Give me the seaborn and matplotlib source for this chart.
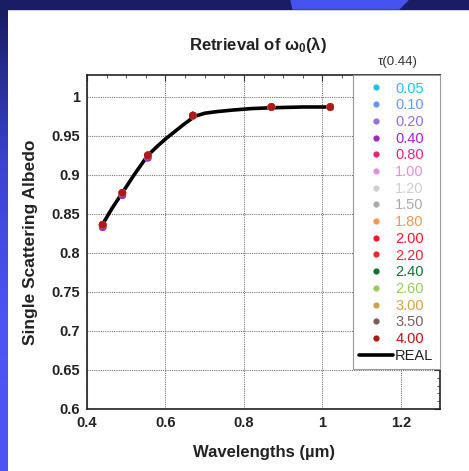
import numpy as np
import pandas as pd
import seaborn as sns
import matplotlib.pyplot as plt
from matplotlib.lines import Line2D
from matplotlib.patches import Rectangle, Polygon
from matplotlib.colors import LinearSegmentedColormap
from matplotlib.ticker import AutoMinorLocator

# retrieval wavelengths (um)
wavelengths = [0.44, 0.49, 0.555, 0.67, 0.87, 1.02]

# optical depth at 0.44 um for each retrieval
tau_values = ["0.05", "0.10", "0.20", "0.40", "0.80", "1.00", "1.20", "1.50",
              "1.80", "2.00", "2.20", "2.40", "2.60", "3.00", "3.50", "4.00"]
tau_colors = ["#1cc4ea", "#6b95f2", "#9670dc", "#a226cc", "#f0207e", "#e58fdc",
              "#cfcfcf", "#ababab", "#ff9450", "#ff1428", "#ee2434", "#0f7434",
              "#98cc5c", "#d0a444", "#7c5c5c", "#b41616"]

# retrieved albedo: thin aerosol retrievals sit a little low at short wavelengths
albedo_low_tau = [0.833, 0.874, 0.922, 0.976, 0.987, 0.987]
albedo_high_tau = [0.836, 0.877, 0.925, 0.976, 0.987, 0.987]
low_tau_set = ["0.05", "0.10", "0.20", "0.40"]

# "real" albedo curve
real_wl = [0.44, 0.465, 0.49, 0.52, 0.555, 0.58, 0.60, 0.625, 0.65, 0.675,
           0.70, 0.73, 0.77, 0.82, 0.87, 0.95, 1.02]
real_albedo = [0.837, 0.858, 0.877, 0.900, 0.925, 0.937, 0.946, 0.956, 0.966, 0.975,
               0.979, 0.981, 0.983, 0.985, 0.986, 0.987, 0.987]


def build_frame():
    rows = []
    for tau in tau_values:
        vals = albedo_low_tau if tau in low_tau_set else albedo_high_tau
        for wl, a in zip(wavelengths, vals):
            rows.append({"tau": tau, "wl": wl, "albedo": a})
    return pd.DataFrame(rows)


def draw_frame_decor(fig):
    # slide-style frame around the chart
    W, H = 469, 471
    fig.patches.append(Rectangle((0, 1 - 9 / H), 1, 9 / H, transform=fig.transFigure,
                                 color="#191d63", zorder=0))
    fig.patches.append(Polygon([(293 / W, 1 - 9 / H), (291 / W, 1), (408 / W, 1), (399 / W, 1 - 9 / H)],
                               closed=True, transform=fig.transFigure, color="#4552ee", zorder=1))
    strip = fig.add_axes([0, 0, 7 / W, 1 - 9 / H])
    cmap = LinearSegmentedColormap.from_list("edge", ["#191d63", "#3a44d0", "#4a55f2", "#4a55f2"])
    strip.imshow(np.linspace(0, 1, 200).reshape(-1, 1), aspect="auto", cmap=cmap)
    strip.axis("off")


def main():
    sns.set_style("white")
    plt.rcParams["font.family"] = ["Liberation Sans", "DejaVu Sans"]
    plt.rcParams["mathtext.fontset"] = "custom"
    plt.rcParams["mathtext.rm"] = "Liberation Sans:bold"
    plt.rcParams["mathtext.default"] = "rm"

    fig = plt.figure(figsize=(4.69, 4.71), dpi=100)
    ax = fig.add_axes([87 / 469, 1 - 409 / 471, 353 / 469, 334 / 471])
    draw_frame_decor(fig)

    df = build_frame()
    palette = dict(zip(tau_values, tau_colors))

    real_df = pd.DataFrame({"wl": real_wl, "albedo": real_albedo})
    sns.lineplot(data=real_df, x="wl", y="albedo", color="black", lw=2.6, ax=ax, zorder=3)
    sns.scatterplot(data=df, x="wl", y="albedo", hue="tau", hue_order=tau_values,
                    palette=palette, s=30, edgecolor="none", legend=False, ax=ax, zorder=4)

    ax.set_xlim(0.4, 1.3)
    ax.set_ylim(0.6, 1.028)
    ax.set_xticks([0.4, 0.6, 0.8, 1.0, 1.2])
    ax.set_xticklabels(["0.4", "0.6", "0.8", "1", "1.2"])
    ax.set_yticks([0.6, 0.65, 0.7, 0.75, 0.8, 0.85, 0.9, 0.95, 1.0])
    ax.set_yticklabels(["0.6", "0.65", "0.7", "0.75", "0.8", "0.85", "0.9", "0.95", "1"])
    ax.xaxis.set_minor_locator(AutoMinorLocator(4))
    ax.yaxis.set_minor_locator(AutoMinorLocator(5))
    ax.tick_params(which="both", direction="in", top=True, right=True, color="#333333")
    ax.tick_params(which="major", length=4, width=0.8, labelsize=10.5, pad=5)
    ax.tick_params(which="minor", length=2, width=0.6)
    for lab in ax.get_xticklabels() + ax.get_yticklabels():
        lab.set_fontweight("bold")
        lab.set_color("#222222")

    ax.grid(True, which="major", color="#777777", linestyle=(0, (1, 1)), lw=0.8)
    for sp in ax.spines.values():
        sp.set_color("#222222")
        sp.set_linewidth(1.2)

    ax.set_xlabel("Wavelengths (\u00b5m)", fontsize=12, fontweight="bold", labelpad=11,
                  color="#222222")
    ax.set_ylabel("Single Scattering Albedo", fontsize=12.5, fontweight="bold", labelpad=10,
                  color="#222222")
    fig.text(258 / 469, 1 - 45 / 471, "Retrieval of \u03c9$_0$(\u03bb)", ha="center", va="center",
             fontsize=12, fontweight="bold", color="#222222")
    fig.text(398 / 469, 1 - 62 / 471, "\u03c4(0.44)", ha="center", va="center",
             fontsize=9.5, color="#333333")

    handles = [Line2D([], [], marker="o", ls="none", color=c, markersize=4.5, markeredgewidth=0)
               for c in tau_colors]
    handles.append(Line2D([], [], color="black", lw=2.6))
    labels = tau_values + ["REAL"]
    leg = ax.legend(handles, labels, loc="upper right", bbox_to_anchor=(1.0, 1.0),
                    borderaxespad=0, frameon=True, fancybox=False, fontsize=10.5,
                    handlelength=2.3, handletextpad=0.15, labelspacing=0.185,
                    borderpad=0.45)
    leg.get_frame().set_edgecolor("#999999")
    leg.get_frame().set_linewidth(0.8)
    leg.get_frame().set_alpha(1)
    for txt, c in zip(leg.get_texts(), tau_colors + ["#222222"]):
        txt.set_color(c)

    fig.savefig("out.png", dpi=100)
    plt.close(fig)


if __name__ == "__main__":
    main()
